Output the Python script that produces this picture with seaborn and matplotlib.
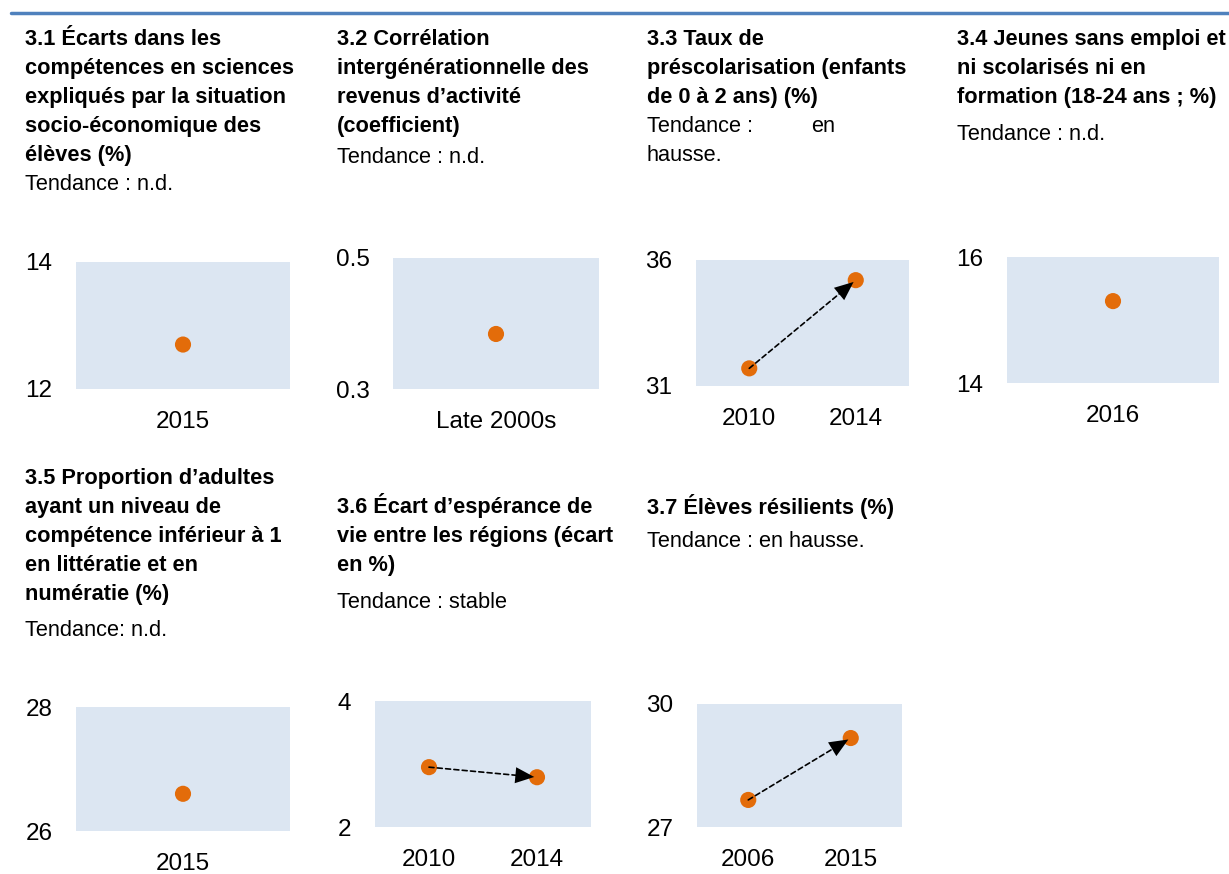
import matplotlib.pyplot as plt
import seaborn as sns
import pandas as pd
from matplotlib.lines import Line2D

# --- data ---
years_31 = ['2015']
vals_31 = [12.7]
years_32 = ['Late 2000s']
vals_32 = [0.384]
years_33 = ['2010', '2014']
vals_33 = [31.7, 35.2]
years_34 = ['2016']
vals_34 = [15.3]
years_35 = ['2015']
vals_35 = [26.6]
years_36 = ['2010', '2014']
vals_36 = [2.95, 2.79]
years_37 = ['2006', '2015']
vals_37 = [27.66, 29.17]

ylims = {
    '3.1': (12, 14), '3.2': (0.3, 0.5), '3.3': (31, 36), '3.4': (14, 16),
    '3.5': (26, 28), '3.6': (2, 4), '3.7': (27, 30),
}

titles = {
    '3.1': ['3.1 Écarts dans les', 'compétences en sciences', 'expliqués par la situation',
            'socio-économique des', 'élèves (%)'],
    '3.2': ['3.2 Corrélation', 'intergénérationnelle des', 'revenus d’activité', '(coefficient)'],
    '3.3': ['3.3 Taux de', 'préscolarisation (enfants', 'de 0 à 2 ans) (%)'],
    '3.4': ['3.4 Jeunes sans emploi et', 'ni scolarisés ni en', 'formation (18-24 ans ; %)'],
    '3.5': ['3.5 Proportion d’adultes', 'ayant un niveau de', 'compétence inférieur à 1',
            'en littératie et en', 'numératie (%)'],
    '3.6': ['3.6 Écart d’espérance de', 'vie entre les régions (écart', 'en %)'],
    '3.7': ['3.7 Élèves résilients (%)'],
}
trends = {
    '3.1': ['Tendance : n.d.'], '3.2': ['Tendance : n.d.'], '3.3': ['Tendance :', 'hausse.'],
    '3.4': ['Tendance : n.d.'], '3.5': ['Tendance: n.d.'], '3.6': ['Tendance : stable'],
    '3.7': ['Tendance : en hausse.'],
}

series = {
    '3.1': (years_31, vals_31), '3.2': (years_32, vals_32), '3.3': (years_33, vals_33),
    '3.4': (years_34, vals_34), '3.5': (years_35, vals_35), '3.6': (years_36, vals_36),
    '3.7': (years_37, vals_37),
}

# --- layout (pixels) ---
W, H = 1229, 874
# key: (text x, first baseline, trend baseline, axes left, top, right, bottom)
layout = {
    '3.1': (25, 45, 190, 76, 262, 290, 389),
    '3.2': (337, 45, 163, 393, 258, 599, 389),
    '3.3': (647, 45, 132, 696, 260, 909, 386),
    '3.4': (957, 45, 140, 1007, 257, 1219, 383),
    '3.5': (25, 484, 636, 76, 707, 290, 831),
    '3.6': (337, 513, 608, 375, 701, 591, 827),
    '3.7': (647, 514, 547, 697, 704, 902, 827),
}
LINE = 29
FS = 15.7

sns.set_style('white')
plt.rcParams['font.family'] = ['Liberation Sans', 'DejaVu Sans']
plt.rcParams['text.color'] = 'black'

BG = '#DCE6F2'
ORANGE = '#E36C0A'
HEAD = '-|>,head_length=0.4,head_width=0.17'

fig = plt.figure(figsize=(W / 100, H / 100), dpi=100)

# blue rule on top
fig.add_artist(Line2D([11 / W, 1], [1 - 13 / H, 1 - 13 / H], color='#4F81BD', lw=2.5))

for key, (tx, ty, trend_y, l, t, r, b) in layout.items():
    for i, line in enumerate(titles[key]):
        fig.text(tx / W, 1 - (ty + i * LINE) / H, line, fontsize=FS, fontweight='bold',
                 va='baseline', ha='left', color='black')
    for i, line in enumerate(trends[key]):
        fig.text(tx / W, 1 - (trend_y + i * LINE) / H, line, fontsize=FS,
                 va='baseline', ha='left', color='black')
    if key == '3.3':
        fig.text(811 / W, 1 - trend_y / H, 'en', fontsize=FS, va='baseline', ha='left',
                 color='black')

    ax = fig.add_axes([l / W, 1 - b / H, (r - l) / W, (b - t) / H])
    ax.set_facecolor(BG)
    years, vals = series[key]
    df = pd.DataFrame({'year': years, 'value': vals})
    sns.scatterplot(data=df, x='year', y='value', ax=ax, color=ORANGE, s=135,
                    edgecolor='none', zorder=3, legend=False)
    if len(years) == 2:
        # dashed shaft
        ax.annotate('', xy=(1, vals[1]), xytext=(0, vals[0]),
                    arrowprops=dict(arrowstyle='-', color='black', lw=1.2,
                                    linestyle=(0, (3, 2)), shrinkA=0, shrinkB=14),
                    zorder=4)
        # solid filled head
        ax.annotate('', xy=(1, vals[1]), xytext=(0, vals[0]),
                    arrowprops=dict(arrowstyle=HEAD, facecolor='black', edgecolor='none',
                                    lw=0, mutation_scale=34, shrinkA=0, shrinkB=2),
                    zorder=4)
    lo, hi = ylims[key]
    ax.set_ylim(lo, hi)
    ax.set_xlim(-0.5, len(years) - 0.5)
    ax.set_yticks([lo, hi])
    ax.set_yticklabels([f'{v:g}' for v in (lo, hi)])
    ax.set_xlabel('')
    ax.set_ylabel('')
    ax.tick_params(axis='both', length=0, labelsize=17.5, colors='black')
    ax.tick_params(axis='y', pad=17)
    ax.tick_params(axis='x', pad=16)
    for s in ax.spines.values():
        s.set_visible(False)

fig.savefig('out.png', dpi=100)
